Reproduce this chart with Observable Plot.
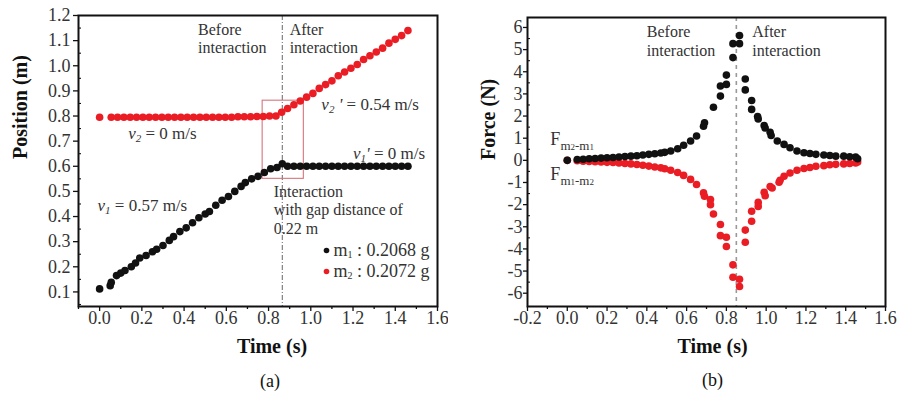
<!DOCTYPE html>
<html><head><meta charset="utf-8">
<script src="https://cdn.jsdelivr.net/npm/d3@7"></script>
<script src="https://cdn.jsdelivr.net/npm/@observablehq/plot@0.6"></script>
<style>
html,body{margin:0;padding:0;background:#fff;}
#wrap{display:flex;width:897px;height:399px;overflow:hidden;}
</style></head><body><div id="wrap"></div>
<script>
// ---------- Panel (a): position vs time ----------
const timeA1 = [0.00,0.05,0.055,0.08,0.10,0.12,0.15,0.17,0.19,0.22,0.25,0.27,0.30,0.33,0.35,0.38,0.41,0.44,0.47,0.50,0.52,0.55,0.58,0.61,0.64,0.67,0.69,0.72,0.75,0.78,0.81,0.84,0.865,0.89,0.92,0.95,0.98,1.01,1.04,1.07,1.10,1.13,1.16,1.19,1.22,1.25,1.28,1.31,1.34,1.37,1.40,1.43,1.46];
const posA1 = [0.112,0.125,0.138,0.165,0.175,0.185,0.200,0.215,0.235,0.245,0.260,0.270,0.285,0.305,0.320,0.340,0.355,0.375,0.395,0.410,0.420,0.445,0.465,0.480,0.500,0.520,0.535,0.550,0.560,0.575,0.590,0.595,0.610,0.600,0.600,0.600,0.600,0.600,0.600,0.600,0.600,0.600,0.600,0.600,0.600,0.600,0.600,0.600,0.600,0.600,0.600,0.600,0.600];
const timeA2 = [0.00,0.055,0.085,0.115,0.145,0.175,0.205,0.235,0.265,0.295,0.325,0.355,0.385,0.415,0.445,0.475,0.505,0.535,0.565,0.595,0.625,0.655,0.685,0.715,0.745,0.775,0.805,0.835,0.862,0.89,0.92,0.95,0.98,1.01,1.04,1.07,1.10,1.13,1.16,1.19,1.22,1.25,1.28,1.31,1.34,1.37,1.40,1.43,1.46];
const posA2 = [0.795,0.795,0.795,0.795,0.795,0.795,0.795,0.795,0.795,0.795,0.795,0.795,0.795,0.795,0.795,0.795,0.795,0.795,0.795,0.795,0.795,0.797,0.797,0.797,0.798,0.798,0.800,0.800,0.815,0.830,0.845,0.860,0.875,0.890,0.910,0.925,0.940,0.960,0.975,0.990,1.005,1.025,1.040,1.055,1.070,1.090,1.105,1.120,1.140];
const xTicksA = [0.0,0.2,0.4,0.6,0.8,1.0,1.2,1.4,1.6];
const xMinorA = [-0.1,0.1,0.3,0.5,0.7,0.9,1.1,1.3,1.5];
const yTicksA = [0.1,0.2,0.3,0.4,0.5,0.6,0.7,0.8,0.9,1.0,1.1,1.2];
const yMinorA = [0.05,0.15,0.25,0.35,0.45,0.55,0.65,0.75,0.85,0.95,1.05,1.15];
const seriesNames = ["m1 : 0.2068 g", "m2 : 0.2072 g"];

// ---------- Panel (b): force vs time ----------
const timeB1 = [0.00,0.05,0.08,0.11,0.14,0.17,0.20,0.23,0.26,0.29,0.32,0.35,0.38,0.41,0.44,0.47,0.49,0.52,0.555,0.585,0.62,0.65,0.685,0.69,0.735,0.77,0.77,0.80,0.80,0.833,0.833,0.866,0.866,0.895,0.895,0.927,0.927,0.957,0.96,0.99,0.995,1.02,1.025,1.056,1.09,1.12,1.155,1.19,1.22,1.25,1.29,1.32,1.35,1.39,1.42,1.45,1.46];
const forceB1 = [0.00,0.04,0.05,0.07,0.08,0.10,0.12,0.13,0.15,0.17,0.19,0.21,0.24,0.27,0.30,0.33,0.36,0.42,0.52,0.68,0.87,1.10,1.54,1.70,2.40,2.90,3.36,3.43,3.85,4.64,5.27,5.27,5.64,3.67,3.18,2.70,2.30,1.98,1.87,1.57,1.46,1.27,1.12,0.87,0.72,0.57,0.42,0.34,0.31,0.27,0.24,0.22,0.19,0.19,0.16,0.15,0.07];
const timeB2 = [0.00,0.05,0.08,0.11,0.14,0.17,0.20,0.23,0.26,0.29,0.32,0.35,0.38,0.41,0.44,0.47,0.49,0.52,0.555,0.585,0.62,0.65,0.685,0.69,0.72,0.72,0.735,0.77,0.77,0.80,0.80,0.833,0.833,0.866,0.866,0.895,0.895,0.927,0.927,0.96,0.96,0.99,0.995,1.02,1.03,1.065,1.07,1.09,1.12,1.155,1.19,1.22,1.25,1.29,1.32,1.35,1.39,1.42,1.45,1.46];
const forceB2 = [0.00,-0.02,-0.04,-0.05,-0.06,-0.07,-0.09,-0.10,-0.12,-0.14,-0.16,-0.19,-0.22,-0.26,-0.30,-0.34,-0.38,-0.45,-0.55,-0.68,-0.86,-1.09,-1.47,-1.62,-1.77,-2.00,-2.42,-2.90,-3.40,-3.47,-3.89,-4.72,-5.28,-5.37,-5.70,-3.15,-3.70,-2.30,-2.75,-1.90,-2.08,-1.44,-1.60,-1.18,-1.25,-0.99,-0.90,-0.72,-0.57,-0.45,-0.37,-0.32,-0.27,-0.24,-0.20,-0.18,-0.16,-0.14,-0.12,-0.07];
const xTicksB = [-0.2,0.0,0.2,0.4,0.6,0.8,1.0,1.2,1.4,1.6];
const xMinorB = [-0.1,0.1,0.3,0.5,0.7,0.9,1.1,1.3,1.5];
const yTicksB = [-6,-5,-4,-3,-2,-1,0,1,2,3,4,5,6];
const yMinorB = [-5.5,-4.5,-3.5,-2.5,-1.5,-0.5,0.5,1.5,2.5,3.5,4.5,5.5];
const interactionTimeA = 0.865;
const interactionTimeB = 0.85;

const BLACK = "#111", RED = "#ea1c24", TXT = "#333";
const FONT = "'Liberation Serif','Times New Roman',serif";

const dataA1 = timeA1.map((t,i)=>({t, p: posA1[i]}));
const dataA2 = timeA2.map((t,i)=>({t, p: posA2[i]}));
const dataB1 = timeB1.map((t,i)=>({t, f: forceB1[i]}));
const dataB2 = timeB2.map((t,i)=>({t, f: forceB2[i]}));

const note = (str, x, y, o={}) => Plot.text([str], {x: () => x, y: () => y, text: d => d, textAnchor: "start", lineAnchor: "middle", fill: TXT, fontSize: 17, ...o});
const block = (str, x, y, o={}) => note(str, x, y, {lineAnchor: "top", lineHeight: 1.16, fontSize: 16, ...o});
const fmt1 = d => d.toFixed(1);

function axes(xT, xM, yT, yM, yFmt, ySize, yPad) {
  return [
    Plot.axisX(xT, {tickSize: 5, tickPadding: 0, tickFormat: fmt1, stroke: BLACK, fill: TXT, fontSize: 18, label: null, strokeWidth: 1.3}),
    Plot.axisX(xM, {tickSize: 3, tickFormat: () => "", stroke: BLACK, label: null, strokeWidth: 1.3}),
    Plot.axisY(yT, {tickSize: ySize, tickPadding: yPad, tickFormat: yFmt, stroke: BLACK, fill: TXT, fontSize: 18, label: null, strokeWidth: 1.3}),
    Plot.axisY(yM, {tickSize: -3, tickFormat: () => "", stroke: BLACK, label: null, strokeWidth: 1.1})
  ];
}

const chartA = Plot.plot({
  width: 448, height: 399,
  marginLeft: 78, marginRight: 11, marginTop: 15, marginBottom: 93,
  x: {domain: [-0.1, 1.6]},
  y: {domain: [0.042, 1.2]},
  style: {fontFamily: FONT, fontSize: "16px", color: TXT, background: "#fff", overflow: "visible"},
  marks: [
    ...axes(xTicksA, xMinorA, yTicksA, yMinorA, fmt1, 5, 3),
    Plot.ruleX([interactionTimeA], {stroke: "#555", strokeWidth: 0.9, strokeDasharray: "5,2,1,2"}),
    Plot.rect([0], {x1: () => 0.772, x2: () => 0.967, y1: () => 0.55, y2: () => 0.861, fill: "none", stroke: "#d4767c", strokeWidth: 1.1}),
    Plot.dot(dataA2, {x: "t", y: "p", r: 3.8, fill: RED, stroke: "none"}),
    Plot.dot(dataA1, {x: "t", y: "p", r: 3.8, fill: BLACK, stroke: "none"}),
    block("Before\ninteraction", 0.466, 1.176),
    block("After\ninteraction", 0.90, 1.176),
    note("v2' = 0.54 m/s", 1.05, 0.845),
    note("v2 = 0 m/s", 0.135, 0.73),
    note("v1' = 0 m/s", 1.20, 0.65),
    note("v1 = 0.57 m/s", -0.01, 0.443),
    block("Interaction\nwith gap distance of\n0.22 m", 0.824, 0.531),
    // legend
    Plot.dot(seriesNames.slice(0,1), {frameAnchor: "bottom-right", dx: -111, dy: -56, r: 2.8, fill: BLACK, stroke: "none"}),
    Plot.dot(seriesNames.slice(1,2), {frameAnchor: "bottom-right", dx: -111, dy: -35, r: 2.8, fill: RED, stroke: "none"}),
    Plot.text(seriesNames.slice(0,1), {frameAnchor: "bottom-right", dx: -104, dy: -56, textAnchor: "start", lineAnchor: "middle", fill: TXT, fontSize: 18, text: d => d}),
    Plot.text(seriesNames.slice(1,2), {frameAnchor: "bottom-right", dx: -104, dy: -35, textAnchor: "start", lineAnchor: "middle", fill: TXT, fontSize: 18, text: d => d}),
    // axis titles
    Plot.text(["Position (m)"], {frameAnchor: "left", dx: -58, dy: -2, rotate: -90, fontWeight: "bold", fontSize: 20, fill: "#111", text: d => d}),
    Plot.text(["Time (s)"], {frameAnchor: "bottom", dx: 14, dy: 46, fontWeight: "bold", fontSize: 20, fill: "#111", text: d => d}),
    Plot.text(["(a)"], {frameAnchor: "bottom", dx: 12, dy: 80, fontSize: 18, fill: "#111", text: d => d}),
    Plot.frame({stroke: BLACK, strokeWidth: 2})
  ]
});

const chartB = Plot.plot({
  width: 449, height: 399,
  marginLeft: 79, marginRight: 12, marginTop: 17, marginBottom: 93,
  x: {domain: [-0.2, 1.6]},
  y: {domain: [-6.6, 6.45]},
  style: {fontFamily: FONT, fontSize: "16px", color: TXT, background: "#fff", overflow: "visible"},
  marks: [
    ...axes(xTicksB, xMinorB, yTicksB, yMinorB, d => String(d), 4, 1),
    Plot.ruleX([interactionTimeB], {stroke: "#999", strokeWidth: 1.6, strokeDasharray: "4,4"}),
    Plot.dot(dataB2, {x: "t", y: "f", r: 3.8, fill: RED, stroke: "none"}),
    Plot.dot(dataB1, {x: "t", y: "f", r: 3.8, fill: BLACK, stroke: "none"}),
    block("Before\ninteraction", 0.40, 6.15),
    block("After\ninteraction", 0.93, 6.15),
    note("Fm2-m1", -0.085, 0.95, {fontSize: 18}),
    note("Fm1-m2", -0.085, -0.62, {fontSize: 18}),
    Plot.text(["Force (N)"], {frameAnchor: "left", dx: -39, dy: -2, rotate: -90, fontWeight: "bold", fontSize: 20, fill: "#111", text: d => d}),
    Plot.text(["Time (s)"], {frameAnchor: "bottom", dx: 6, dy: 46, fontWeight: "bold", fontSize: 20, fill: "#111", text: d => d}),
    Plot.text(["(b)"], {frameAnchor: "bottom", dx: 6, dy: 79, fontSize: 18, fill: "#111", text: d => d}),
    Plot.frame({stroke: BLACK, strokeWidth: 2})
  ]
});

// rich text (italic v, subscripts)
const rich = {
  "v1 = 0.57 m/s": `<tspan font-style="italic">v</tspan><tspan font-style="italic" font-size="11" dy="3">1</tspan><tspan dy="-3"> = 0.57 m/s</tspan>`,
  "v2 = 0 m/s": `<tspan font-style="italic">v</tspan><tspan font-style="italic" font-size="11" dy="3">2</tspan><tspan dy="-3"> = 0 m/s</tspan>`,
  "v1' = 0 m/s": `<tspan font-style="italic">v</tspan><tspan font-style="italic" font-size="11" dy="3">1</tspan><tspan dy="-3" font-style="italic">'</tspan><tspan> = 0 m/s</tspan>`,
  "v2' = 0.54 m/s": `<tspan font-style="italic">v</tspan><tspan font-style="italic" font-size="11" dy="3">2</tspan><tspan dy="-3" font-style="italic"> '</tspan><tspan> = 0.54 m/s</tspan>`,
  "m1 : 0.2068 g": `m<tspan font-size="10" dy="2">1</tspan><tspan dy="-2"> : 0.2068 g</tspan>`,
  "m2 : 0.2072 g": `m<tspan font-size="10" dy="2">2</tspan><tspan dy="-2"> : 0.2072 g</tspan>`,
  "Fm2-m1": `F<tspan font-size="13" dy="5">m</tspan><tspan font-size="9">2</tspan><tspan font-size="13">-m</tspan><tspan font-size="9">1</tspan>`,
  "Fm1-m2": `F<tspan font-size="13" dy="5">m</tspan><tspan font-size="9">1</tspan><tspan font-size="13">-m</tspan><tspan font-size="9">2</tspan>`
};
for (const c of [chartA, chartB]) {
  d3.select(c).selectAll("text").each(function() {
    const t = this.textContent;
    if (rich[t]) this.innerHTML = rich[t];
  });
}
document.getElementById("wrap").append(chartA, chartB);
</script></body></html>
